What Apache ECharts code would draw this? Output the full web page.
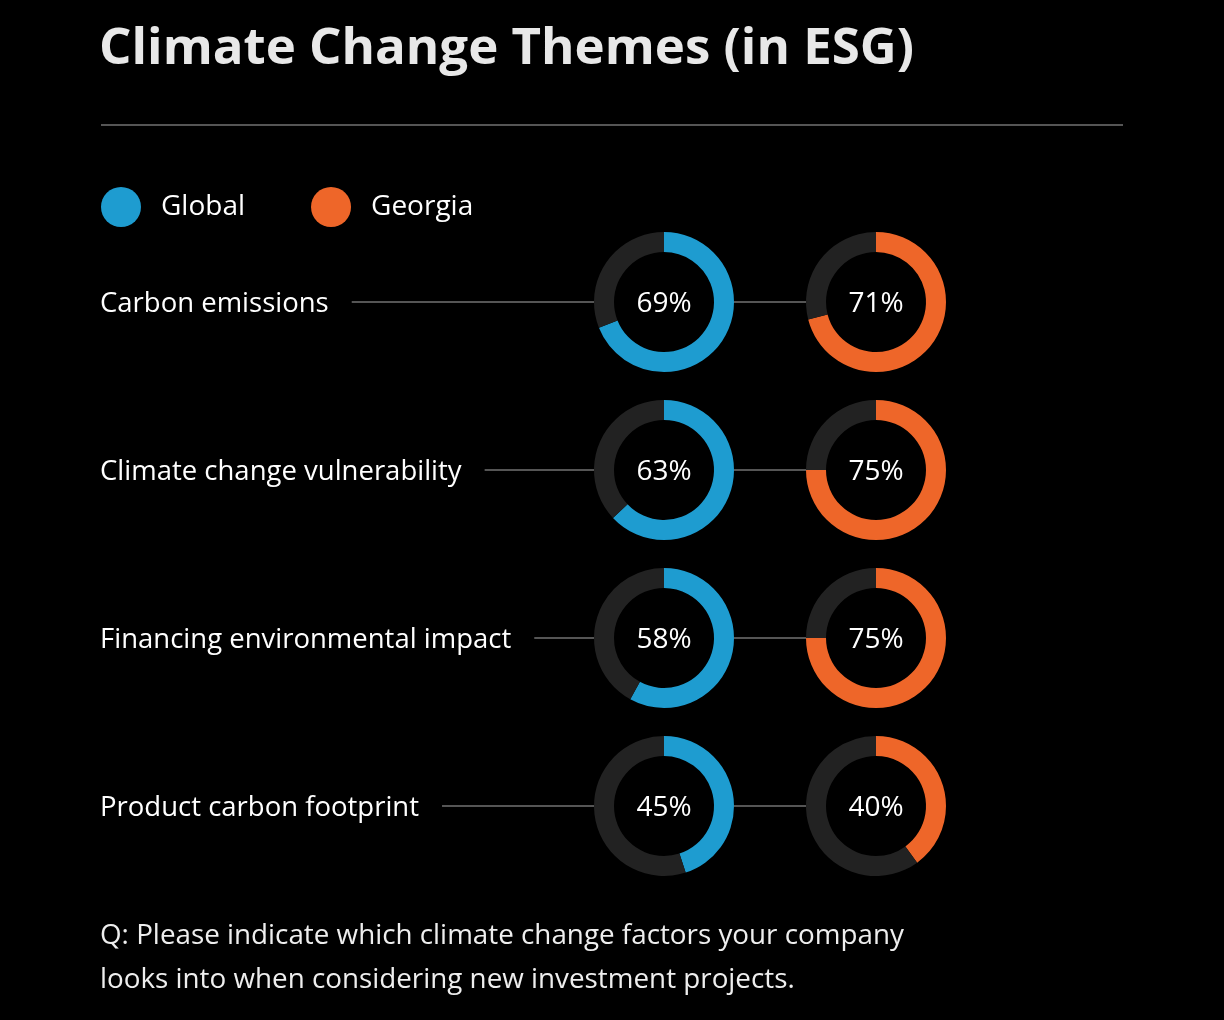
<!DOCTYPE html>
<html>
<head>
<meta charset="utf-8">
<script src="https://cdn.jsdelivr.net/npm/echarts@6/dist/echarts.min.js"></script>
<style>
html,body{margin:0;padding:0;background:#000;}
#chart{width:1224px;height:1020px;}
</style>
</head>
<body>
<div id="chart"></div>
<script>
const categories = ['Carbon emissions', 'Climate change vulnerability', 'Financing environmental impact', 'Product carbon footprint'];
const seriesNames = ['Global', 'Georgia'];
const globalValues = [69, 63, 58, 45];
const georgiaValues = [71, 75, 75, 40];
const titleText = 'Climate Change Themes (in ESG)';
const footnoteText = 'Q: Please indicate which climate change factors your company\nlooks into when considering new investment projects.';

const FONT = '"Open Sans"';
const colors = ['#1e9cd0', '#ee6629'];
const trackColor = '#222222';
const lineColor = '#555555';
const leftX = 101;
const rowY0 = 302, rowStep = 168;
const colX = [664, 876];
const outerR = 70, innerR = 50;
const labelSize = 27.5;
const textNudge = 2;

const chart = echarts.init(document.getElementById('chart'));

const ctx = document.createElement('canvas').getContext('2d');
ctx.font = labelSize + 'px ' + FONT;

const valuesBySeries = [globalValues, georgiaValues];
const series = [];
const graphics = [];

graphics.push({
  type: 'line', shape: {x1: leftX, y1: 125, x2: 1123, y2: 125},
  style: {stroke: lineColor, lineWidth: 2}, silent: true
});

categories.forEach((cat, i) => {
  const cy = rowY0 + rowStep * i;
  const w = ctx.measureText(cat).width;
  graphics.push({
    type: 'text', x: leftX - 1, y: cy + textNudge,
    style: {text: cat, fill: '#ffffff', font: labelSize + 'px ' + FONT, verticalAlign: 'middle', align: 'left'}
  });
  graphics.push({
    type: 'line', shape: {x1: leftX + w + 22, y1: cy, x2: colX[0] - outerR, y2: cy},
    style: {stroke: lineColor, lineWidth: 2}, silent: true, z: -1
  });
  graphics.push({
    type: 'line', shape: {x1: colX[0] + outerR, y1: cy, x2: colX[1] - outerR, y2: cy},
    style: {stroke: lineColor, lineWidth: 2}, silent: true, z: -1
  });
  seriesNames.forEach((sn, s) => {
    const v = valuesBySeries[s][i];
    series.push({
      type: 'pie',
      name: sn + ' - ' + cat,
      center: [colX[s], cy],
      radius: [innerR, outerR],
      startAngle: 90,
      clockwise: true,
      silent: true,
      avoidLabelOverlap: false,
      labelLine: {show: false},
      emphasis: {disabled: true},
      data: [
        {name: sn, value: v, itemStyle: {color: colors[s]},
         label: {show: true, position: 'center', formatter: '{c}%', color: '#ffffff', fontSize: 28, fontFamily: FONT, offset: [0, textNudge]}},
        {name: 'rest', value: 100 - v, itemStyle: {color: trackColor}, label: {show: false}}
      ]
    });
  });
});

chart.setOption({
  backgroundColor: '#000000',
  animation: false,
  title: [
    {text: titleText, left: leftX - 2, top: 24, padding: 0,
     textStyle: {color: '#e8e8e8', fontSize: 51, fontWeight: 'bold', fontFamily: FONT}},
    {text: footnoteText, left: leftX - 1, top: 914, padding: 0,
     textStyle: {color: '#eeeeee', fontSize: 27.8, fontWeight: 'normal', lineHeight: 44, fontFamily: FONT}}
  ],
  legend: {
    data: seriesNames,
    left: leftX, top: 187, padding: 0,
    icon: 'circle', itemWidth: 40, itemHeight: 40, itemGap: 66,
    selectedMode: false,
    textStyle: {color: '#ffffff', fontSize: 28, fontFamily: FONT, padding: [3, 0, 0, 15]}
  },
  graphic: graphics,
  series: series
});
</script>
</body>
</html>
